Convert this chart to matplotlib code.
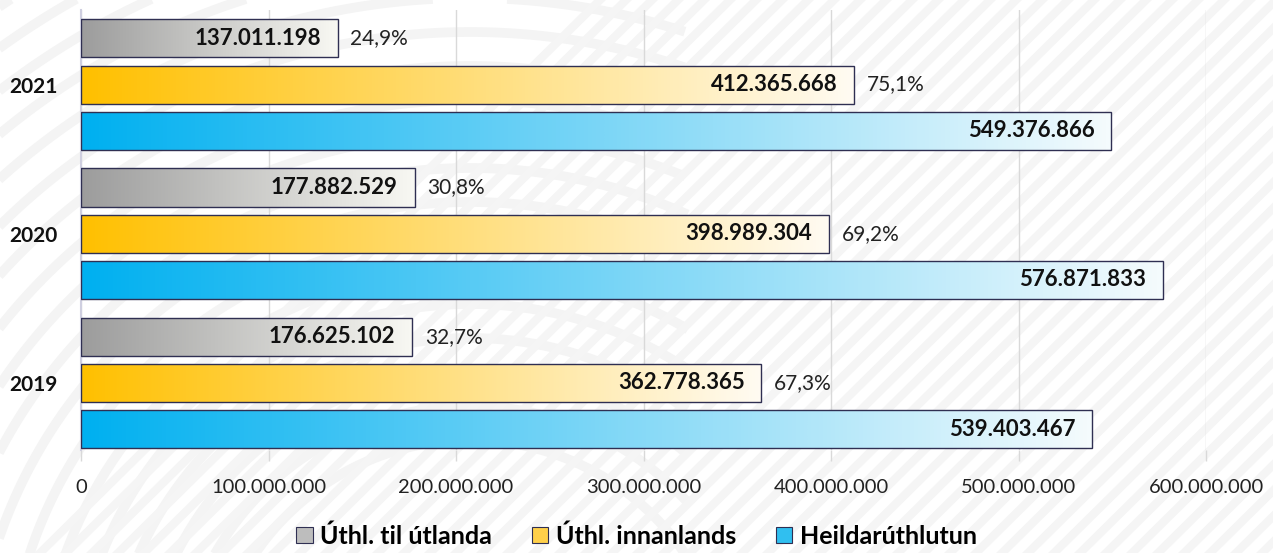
import numpy as np
import matplotlib.pyplot as plt
from matplotlib.colors import LinearSegmentedColormap
from matplotlib.patches import Patch

plt.rcParams['font.family'] = ['Lato', 'DejaVu Sans']

years = ['2019', '2020', '2021']
series_names = ['Úthl. til útlanda', 'Úthl. innanlands', 'Heildarúthlutun']
utlanda = [176625102, 177882529, 137011198]
innanlands = [362778365, 398989304, 412365668]
heild = [539403467, 576871833, 549376866]

# left colour -> right colour of each bar's gradient
grad_colors = [('#9c9c9c', '#f8f8f3'), ('#ffc000', '#fffbf2'), ('#00b0f0', '#f4fbfd')]
legend_colors = ['#bdbdbd', '#ffd04a', '#30bff0']
edge = '#2f2f52'


def fmt(v):
    return '{:,}'.format(int(v)).replace(',', '.')


fig = plt.figure(figsize=(12.73, 5.53), dpi=100)

# faint background pattern
bg = fig.add_axes([0, 0, 1, 1], zorder=-5)
bg.set_xlim(0, 1273)
bg.set_ylim(553, 0)
bg.axis('off')
t = np.linspace(0, 2 * np.pi, 400)
for r in range(260, 1000, 34):
    xs = 470 + r * np.cos(t)
    ys = 700 + r * np.sin(t)
    m = xs < 690
    bg.plot(np.where(m, xs, np.nan), ys, color='#f4f4f4', lw=7, solid_capstyle='butt')
for x0 in range(600, 1900, 26):
    bg.plot([x0, x0 - 560], [0, 553], color='#f5f5f5', lw=6)

ax = fig.add_axes([81 / 1273, 1 - 450 / 553, (1206 - 81) / 1273, 440 / 553])
ax.set_facecolor('none')

h = 0.255
offsets = [0.31, 0, -0.31]  # gray on top, orange middle, blue bottom
series = [utlanda, innanlands, heild]
y = np.arange(len(years))

for s, vals in enumerate(series):
    cmap = LinearSegmentedColormap.from_list('g%d' % s, grad_colors[s])
    grad = np.linspace(0, 1, 256).reshape(1, -1)
    bars = ax.barh(y + offsets[s], vals, height=h, facecolor='none',
                   edgecolor=edge, linewidth=1.0, zorder=3)
    for b, v in zip(bars, vals):
        y0 = b.get_y()
        im = ax.imshow(grad, cmap=cmap, aspect='auto', extent=(0, v, y0, y0 + h),
                       zorder=2, interpolation='bicubic')
        im.set_clip_path(b)
        ax.annotate(fmt(v), (v, y0 + h / 2), xytext=(-12, 0), textcoords='offset points',
                    ha='right', va='center', fontsize=16, fontweight='bold',
                    color='#111111', zorder=5)
    if s < 2:
        for i, v in enumerate(vals):
            pct = v / heild[i] * 100
            ax.annotate(('%.1f%%' % pct).replace('.', ','), (v, y[i] + offsets[s]),
                        xytext=(9, 0), textcoords='offset points', ha='left',
                        va='center', fontsize=15, color='#222222', zorder=5)

ax.set_xlim(0, 600000000)
ax.set_ylim(-0.45, 2.5)
ax.set_xticks(np.arange(0, 600000001, 100000000))
ax.set_xticklabels([fmt(v) for v in ax.get_xticks()], fontsize=14.5, color='#222222')
ax.set_yticks(y)
ax.set_yticklabels(years, fontsize=15, fontweight='bold', color='#111111')
ax.tick_params(axis='y', length=0, pad=17)
ax.tick_params(axis='x', length=8, color='#d9d9d9', width=1, pad=13)
ax.grid(axis='x', color='#d9d9d9', lw=1, zorder=0)
ax.set_axisbelow(True)
for sp in ['top', 'right', 'bottom']:
    ax.spines[sp].set_visible(False)
ax.spines['left'].set_color('#cfcfe0')
ax.spines['left'].set_linewidth(1.5)

handles = [Patch(facecolor=c, edgecolor=edge, linewidth=0.8) for c in legend_colors]
fig.legend(handles, series_names, loc='center', bbox_to_anchor=(0.5, 1 - 536 / 553),
           ncol=3, frameon=False, handlelength=0.65, handleheight=0.65,
           handletextpad=0.3, columnspacing=1.6,
           prop={'family': ['Lato', 'DejaVu Sans'], 'weight': 'bold', 'size': 18})

fig.savefig('out.png', dpi=100)
